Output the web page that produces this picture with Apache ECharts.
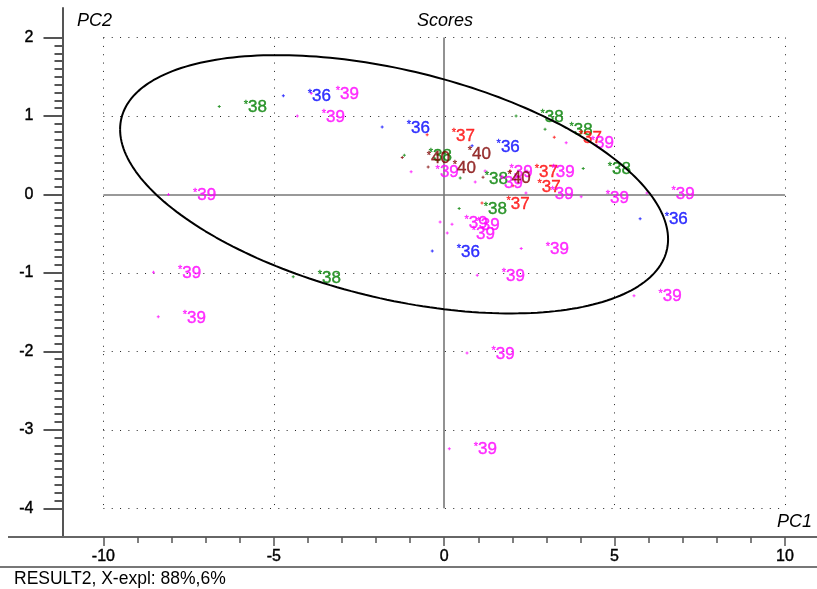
<!DOCTYPE html>
<html>
<head>
<meta charset="utf-8">
<script src="https://cdn.jsdelivr.net/npm/echarts@6/dist/echarts.min.js"></script>
<style>
  html, body { margin: 0; padding: 0; background: #ffffff; }
  #chart { width: 817px; height: 589px; }
</style>
</head>
<body>
<div id="chart"></div>
<script>
// PCA scores: PC1 vs PC2, each sample tagged with its group number

// group 36
const pc1_g36 = [-4.72, -1.82, 0.82, -0.35, 5.75];
const pc2_g36 = [1.26, 0.86, 0.62, -0.72, -0.31];
// group 37
const pc1_g37 = [-0.50, 3.23, 1.94, 2.02, 1.11];
const pc2_g37 = [0.76, 0.73, 0.30, 0.11, -0.11];
// group 38
const pc1_g38 = [-6.60, -4.43, -1.17, 0.47, 0.44, 2.11, 2.96, 4.08];
const pc2_g38 = [1.12, -1.05, 0.50, 0.21, -0.18, 1.00, 0.83, 0.33];
// group 39
const pc1_g39 = [-3.90, -4.31, -8.09, -8.53, -8.39, 0.15, 0.67, 0.97, 2.26, 5.57, 5.95,
                 4.02, 2.40, 2.43, 1.20, 0.91, -0.97, -0.12, 0.23, 0.09, 3.58];
const pc2_g39 = [1.29, 1.00, 0.00, -0.99, -1.56, -3.24, -2.02, -1.03, -0.69, -1.29, 0.02,
                 -0.03, 0.02, 0.30, 0.30, 0.16, 0.29, -0.35, -0.38, -0.49, 0.66];
// group 40
const pc1_g40 = [-1.23, -0.03, -0.47, 1.14];
const pc2_g40 = [0.47, 0.53, 0.35, 0.22];

// axis ticks
const xTicks = [-10, -5, 0, 5, 10];
const yTicks = [2, 1, 0, -1, -2, -3, -4];
// dotted reference grid (box from -10..10, -4..2)
const xGridLines = [-10, -5, 5, 10];
const yGridLines = [2, 1, -1, -2, -3, -4];

// confidence ellipse: centre and two conjugate semi-diameters (PC1, PC2 units)
const ellipseCenter = [-1.47, 0.13];
const ellipseU = [-8.04, 0.70];
const ellipseV = [0.0, -1.49];

const FONT = '"Liberation Sans", Arial, Helvetica, sans-serif';
const X_MIN = -11.2, X_MAX = 10.94;
const Y_MIN = -4.366, Y_MAX = 2.377;

function range(from, to, step) {
  const out = [];
  const n = Math.round((to - from) / step);
  for (let i = 0; i <= n; i++) out.push(+(from + i * step).toFixed(4));
  return out;
}
const xMinor = range(xTicks[0], xTicks[xTicks.length - 1], 1).filter(v => !xTicks.includes(v));
const yMinor = range(yTicks[yTicks.length - 1], yTicks[0], 0.1).filter(v => !yTicks.some(t => Math.abs(t - v) < 1e-6));

function zip(xs, ys) { return xs.map((x, i) => [x, ys[i]]); }

const plusSymbol = 'path://M1,0H2V1H3V2H2V3H1V2H0V1H1Z';

function groupSeries(name, xs, ys, color) {
  return {
    name: name,
    type: 'scatter',
    xAxisIndex: 0, yAxisIndex: 0,
    symbol: plusSymbol,
    symbolSize: 3,
    itemStyle: { color: color },
    data: zip(xs, ys),
    z: 5,
    label: {
      show: true,
      position: [26, 2.5],
      align: 'left',
      verticalAlign: 'middle',
      formatter: '{s|*}{n|' + name + '}',
      rich: {
        s: { fontSize: 11, color: color, fontFamily: FONT, verticalAlign: 'top', lineHeight: 17,
             textBorderColor: color, textBorderWidth: 0.3 },
        n: { fontSize: 17, color: color, fontFamily: FONT, lineHeight: 17,
             textBorderColor: color, textBorderWidth: 0.4 }
      }
    },
    emphasis: { disabled: true }
  };
}

// ellipse outline
const ellipsePts = [];
for (let i = 0; i <= 240; i++) {
  const t = 2 * Math.PI * i / 240;
  ellipsePts.push([
    ellipseCenter[0] + ellipseU[0] * Math.cos(t) + ellipseV[0] * Math.sin(t),
    ellipseCenter[1] + ellipseU[1] * Math.cos(t) + ellipseV[1] * Math.sin(t)
  ]);
}

const dotted = { color: '#222', width: 1, type: [1, 7.33] };
const zeroLine = { color: '#777', width: 1.6, type: 'solid' };
const refLines = [];
xGridLines.forEach(x => refLines.push([{ coord: [x, yTicks[0]], lineStyle: dotted }, { coord: [x, yTicks[yTicks.length - 1]] }]));
yGridLines.forEach(y => refLines.push([{ coord: [xTicks[0], y], lineStyle: dotted }, { coord: [xTicks[xTicks.length - 1], y] }]));
refLines.push([{ coord: [0, yTicks[0]], lineStyle: zeroLine }, { coord: [0, yTicks[yTicks.length - 1]] }]);
refLines.push([{ coord: [xTicks[0], 0], lineStyle: zeroLine }, { coord: [xTicks[xTicks.length - 1], 0] }]);

const chart = echarts.init(document.getElementById('chart'), null, { renderer: 'canvas' });

const axisGray = '#555';
const tickLabel = { fontSize: 16, color: '#000', fontFamily: FONT, textBorderColor: '#000', textBorderWidth: 0.4 };

chart.setOption({
  animation: false,
  backgroundColor: '#ffffff',
  grid: { left: 62.5, right: 0, top: 8, bottom: 52, containLabel: false },
  xAxis: [
    {
      type: 'value', min: X_MIN, max: X_MAX, position: 'bottom',
      axisLine: { show: true, onZero: false, lineStyle: { color: '#666', width: 2 } },
      axisTick: { show: true, length: 9, customValues: xTicks, lineStyle: { color: axisGray, width: 1.5 } },
      axisLabel: Object.assign({ show: true, customValues: xTicks, margin: 12 }, tickLabel),
      splitLine: { show: false }
    },
    {
      type: 'value', min: X_MIN, max: X_MAX, position: 'bottom',
      axisLine: { show: false, onZero: false },
      axisTick: { show: true, length: 6, customValues: xMinor, lineStyle: { color: axisGray, width: 1.5 } },
      axisLabel: { show: false },
      splitLine: { show: false }
    }
  ],
  yAxis: [
    {
      type: 'value', min: Y_MIN, max: Y_MAX, position: 'left',
      axisLine: { show: true, onZero: false, lineStyle: { color: axisGray, width: 2 } },
      axisTick: { show: true, length: 19, customValues: yTicks, lineStyle: { color: axisGray, width: 2 } },
      axisLabel: Object.assign({ show: true, customValues: yTicks, margin: 29 }, tickLabel),
      splitLine: { show: false }
    },
    {
      type: 'value', min: Y_MIN, max: Y_MAX, position: 'left',
      axisLine: { show: false, onZero: false },
      axisTick: { show: true, length: 8, customValues: yMinor, lineStyle: { color: axisGray, width: 2 } },
      axisLabel: { show: false },
      splitLine: { show: false }
    }
  ],
  series: [
    {
      type: 'line', data: [], xAxisIndex: 0, yAxisIndex: 0, z: 1,
      markLine: { silent: true, symbol: 'none', label: { show: false }, animation: false, data: refLines }
    },
    groupSeries('36', pc1_g36, pc2_g36, '#0000ff'),
    groupSeries('38', pc1_g38, pc2_g38, '#008000'),
    groupSeries('37', pc1_g37, pc2_g37, '#ff0000'),
    groupSeries('39', pc1_g39, pc2_g39, '#ff00ff'),
    groupSeries('40', pc1_g40, pc2_g40, '#800000'),
    {
      type: 'line', data: ellipsePts, xAxisIndex: 0, yAxisIndex: 0, z: 8,
      showSymbol: false, smooth: false, silent: true,
      lineStyle: { color: '#000', width: 2 }
    }
  ],
  graphic: [
    { type: 'text', left: 77, top: 12, style: { text: 'PC2', font: 'italic 18px ' + FONT, fill: '#000' } },
    { type: 'text', left: 417, top: 12, style: { text: 'Scores', font: 'italic 18px ' + FONT, fill: '#000' } },
    { type: 'text', right: 5, top: 513, style: { text: 'PC1', font: 'italic 18px ' + FONT, fill: '#000' } },
    { type: 'line', shape: { x1: 8, y1: 537, x2: 63, y2: 537 }, style: { stroke: '#666', lineWidth: 2 } },
    { type: 'line', shape: { x1: 0, y1: 567, x2: 817, y2: 567 }, style: { stroke: '#777', lineWidth: 2 } },
    { type: 'text', left: 14, top: 570, style: { text: 'RESULT2, X-expl: 88%,6%', font: '17.5px ' + FONT, fill: '#000' } }
  ]
});
</script>
</body>
</html>
